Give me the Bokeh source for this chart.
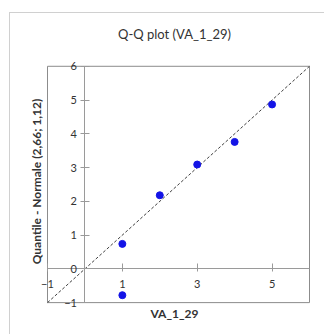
from bokeh.plotting import figure
from bokeh.models import LinearAxis, FixedTicker, Range1d, Title
from bokeh.embed import file_html
from bokeh.resources import INLINE

# data
x_vals = [1, 1, 2, 3, 4, 5]
y_vals = [-0.78, 0.74, 2.18, 3.09, 3.76, 4.87]
x_ticks = [-1, 1, 3, 5]
y_ticks = [-1, 0, 1, 2, 3, 4, 5, 6]
axis_min, axis_max = -1, 6
title_text = "Q-Q plot (VA_1_29)"
x_title = "VA_1_29"
y_title = "Quantile - Normale (2,66; 1,12)"

FONT = "Lato"
GRAY = "#9a9a9a"
BOX = "#8c8c8c"
TXT = "#333333"

# plot box size in px and padding so that edge labels are not clipped
box_w, box_h = 262, 240
pad_l, pad_r, pad_t, pad_b = 10, 2, 14, 8
ux = (axis_max - axis_min) / box_w
uy = (axis_max - axis_min) / box_h

p = figure(width=315, height=322,
           x_range=Range1d(axis_min - pad_l * ux, axis_max + pad_r * ux),
           y_range=Range1d(axis_min - pad_b * uy, axis_max + pad_t * uy),
           x_axis_location=None, y_axis_location=None,
           output_backend="svg", toolbar_location=None,
           min_border_left=27, min_border_right=14, min_border_top=35, min_border_bottom=25)
p.styles = {"border-top": "1px solid #d0d0d0", "border-left": "1px solid #d0d0d0",
            "margin-left": "9px", "margin-top": "12px"}
p.title = Title(text=title_text, align="center",
                text_font=FONT, text_font_size="13px",
                text_font_style="normal", text_color=TXT, standoff=21, offset=-3)
p.xgrid.visible = False
p.ygrid.visible = False
p.outline_line_color = None

# plot-area box
p.quad(left=[axis_min], right=[axis_max], bottom=[axis_min], top=[axis_max],
       fill_alpha=0, line_color=BOX, line_width=1)

xa = LinearAxis(fixed_location=0, ticker=FixedTicker(ticks=x_ticks), bounds=(axis_min, axis_max),
                axis_line_color=GRAY, major_tick_line_color=GRAY,
                major_tick_in=5, major_tick_out=3, minor_tick_line_color=None,
                major_label_text_font=FONT, major_label_text_font_size="11px",
                major_label_text_color=TXT, major_label_standoff=8)
ya = LinearAxis(fixed_location=0, ticker=FixedTicker(ticks=y_ticks), bounds=(axis_min, axis_max),
                axis_line_color=GRAY, major_tick_line_color=GRAY,
                major_tick_in=5, major_tick_out=4, minor_tick_line_color=None,
                major_label_text_font=FONT, major_label_text_font_size="11px",
                major_label_text_color=TXT, major_label_standoff=4)
p.add_layout(xa, "below")
p.add_layout(ya, "left")

xt = LinearAxis(axis_label=x_title, ticker=FixedTicker(ticks=[]), axis_line_color=None,
                major_tick_line_color=None, minor_tick_line_color=None,
                axis_label_text_font=FONT, axis_label_text_font_size="12px",
                axis_label_text_font_style="bold", axis_label_text_color=TXT,
                axis_label_standoff=-5)
yt = LinearAxis(axis_label=y_title, ticker=FixedTicker(ticks=[]), axis_line_color=None,
                major_tick_line_color=None, minor_tick_line_color=None,
                axis_label_text_font=FONT, axis_label_text_font_size="12px",
                axis_label_text_font_style="bold", axis_label_text_color=TXT,
                axis_label_standoff=-6)
p.add_layout(xt, "below")
p.add_layout(yt, "left")

p.line([axis_min, axis_max], [axis_min, axis_max], line_color="#404040", line_dash="3 2", line_width=1)
p.scatter(x_vals, y_vals, size=7, color="#1414e6")

open("out.html", "w").write(file_html(p, INLINE))
